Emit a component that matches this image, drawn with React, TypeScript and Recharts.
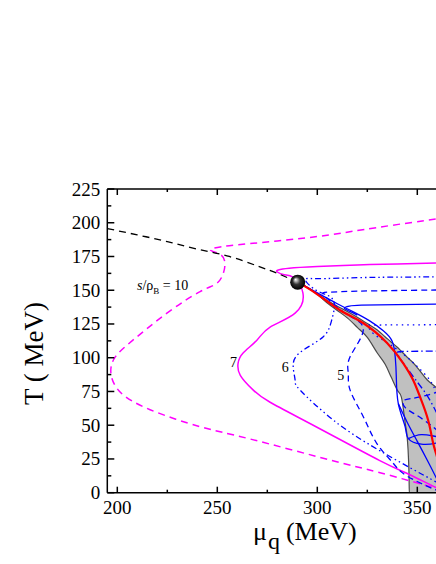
import React from "react";
import { ComposedChart, Line, Area, Scatter, XAxis, YAxis } from "recharts";

// ─── Data (μ_q in MeV, T in MeV) ──────────────────────────

const xTicks = [200, 225, 250, 275, 300, 325, 350, 375];
const yTicks = [0, 12.5, 25, 37.5, 50, 62.5, 75, 87.5, 100, 112.5, 125, 137.5, 150, 162.5, 175, 187.5, 200, 212.5, 225];

// critical end point
const cepMu = [290.2];
const cepT = [156];

// crossover (black dashed)
const crossMu = [195, 210, 225, 240, 256, 270, 280, 290.2];
const crossT = [195.7, 191, 186, 180.5, 175, 168, 162.5, 156];

// s/ρB = 10 (magenta dashed)
const s10Mu = [364, 359.5, 330, 306, 280, 256, 246.5, 251.5, 253.8, 253, 249.7, 241.4, 224.8, 207.8, 199, 196.8, 201.4, 216.4, 241.4, 266.4, 306.4, 331.4, 359, 364];
const s10T = [204, 202.8, 196.5, 191, 186.5, 183, 180, 176.5, 170, 162.5, 155, 149, 133, 113, 100.6, 88.6, 74.6, 61.5, 48.9, 39.8, 24.2, 14.8, 3.5, 1.5];

// s/ρB = 7 (magenta solid)
const s7Mu = [365, 340, 320, 300, 286, 280.5, 280, 283.5, 288, 292.8, 288.9, 276.4, 269.8, 262.9, 260.4, 261.5, 268, 276.4, 299.6, 331, 346, 359, 365];
const s7T = [170.3, 169.5, 168.7, 167.5, 166.3, 165, 163.5, 161.5, 159.5, 148, 133, 122.7, 113, 103.5, 96, 87, 76, 67, 48.7, 24, 13.5, 4, 0.5];

// s/ρB = 6 (blue dash-dot-dot)
const s6Mu = [365, 340, 320, 300, 294, 300, 308, 307.2, 303, 293, 288, 288.9, 291.4, 307.9, 331.4, 359.4, 365];
const s6T = [160, 159.7, 159.3, 158.6, 157.5, 149.5, 142.7, 127.9, 115.6, 105.7, 95.9, 83.5, 76, 53.9, 31, 8, 4];

// s/ρB = 5 (blue dashed)
const s5Mu = [365, 340, 320, 306, 303, 308, 316, 323, 316.4, 315.5, 316.4, 323, 329.7, 337.9, 344.7, 359.4, 365];
const s5T = [150.3, 149.8, 149.3, 148.6, 147, 140, 131, 120.5, 100.7, 88.4, 76, 56.3, 36.6, 21.9, 12.5, 2, 0];

// lower ratios (blue), mostly inside the spinodal band
const s4Mu = [365, 340, 322, 316, 313.5, 316, 320];
const s4T = [139.8, 139.4, 139, 138.3, 136.8, 134.5, 131.5];
const spinMu = [290.2, 300, 310, 318, 326, 333, 337.5, 339, 339.5, 340.5, 343.9, 345.5, 352, 360, 366];
const spinT = [156, 148, 140, 134, 127.5, 120, 112, 100, 86, 66, 49, 40, 36, 37, 40];
const loopMu = [345.5, 352, 360, 366];
const loopT = [40, 43, 41.5, 41];
const diagMu = [340.5, 345, 350, 355, 360, 363];
const diagT = [66, 52, 38, 24, 9.4, 0];
const s3Mu = [365, 350, 335, 327, 325.4, 328, 334, 340, 346, 351, 356, 359, 362];
const s3T = [124.5, 124.4, 124.3, 124.2, 123.5, 118, 112, 106, 99, 92, 84, 76, 66];
const s2Mu = [365, 350, 342, 340, 342, 346, 350, 354, 358, 362];
const s2T = [105, 104.8, 104.6, 103.5, 98, 90, 82, 74, 64, 52];
const s1Mu = [366, 360, 353, 347, 343, 344, 349, 355, 361];
const s1T = [77, 74.5, 71.5, 69.8, 68, 63, 58, 52, 45];

// first-order line (red)
const redMu = [290.2, 300, 311.4, 322.9, 334.9, 342.9, 347.9, 351.4, 355.4, 357.9, 359.9, 362, 364];
const redT = [156, 147, 135.2, 125.7, 110.9, 96, 83.5, 70.9, 53.9, 36.8, 26.4, 12, 0];

// spinodal band (gray)
const bandMu = [291, 296, 300, 305, 310, 315, 320, 325, 330, 334, 337, 340, 342, 344, 345, 345.6, 345.9, 346, 350, 355, 360, 365, 370, 374, 377, 379];
const bandLow = [155.5, 151, 147, 140.5, 135, 129.5, 122.5, 115, 103.5, 95, 85.5, 76, 71, 51, 40, 25, 10, 0, 0, 0, 0, 0, 0, 0, 0, 0];
const bandHigh = [155.5, 151.2, 147.5, 142.3, 138.2, 134.3, 130, 125.3, 120.5, 115.4, 111.5, 107.8, 104.8, 101.8, 100.3, 99.5, 99, 98.9, 92.7, 83.5, 77, 66, 52, 35, 17, 0];

// ─── Helpers ──────────────────────────────────────────────

const FONT = "'Liberation Serif', 'Times New Roman', serif";
const txt = { fontFamily: FONT } as const;

function pts(mu: number[], t: number[]) {
  return mu.map((m, i) => ({ mu: m, T: t[i] }));
}

const bandData = bandMu.map((m, i) => ({ mu: m, band: [bandLow[i], bandHigh[i]] }));

function XTick({ x, y, payload }: any) {
  const major = payload.value % 50 === 0;
  return (
    <g>
      <line x1={x} x2={x} y1={y} y2={y - (major ? 6 : 3)} stroke="#000" strokeWidth={1.5} />
      {major && (
        <text x={x} y={y + 21} textAnchor="middle" fontFamily={FONT} style={txt} fontSize={19} fill="#000">
          {payload.value}
        </text>
      )}
    </g>
  );
}

function TopTick({ x, y, payload }: any) {
  const major = payload.value % 50 === 0;
  return <line x1={x} x2={x} y1={y} y2={y + (major ? 6 : 3)} stroke="#000" strokeWidth={1.5} />;
}

function YTick({ x, y, payload }: any) {
  const major = payload.value % 25 === 0;
  return (
    <g>
      <line x1={x} x2={x + (major ? 7 : 4)} y1={y} y2={y} stroke="#000" strokeWidth={1.5} />
      {major && (
        <text x={x - 7} y={y + 6.5} textAnchor="end" fontFamily={FONT} style={txt} fontSize={19} fill="#000">
          {payload.value}
        </text>
      )}
    </g>
  );
}

function Ball({ cx, cy }: any) {
  return (
    <g>
      <defs>
        <radialGradient id="ballGrad" cx="50%" cy="50%" r="50%" fx="35%" fy="32%">
          <stop offset="0" stopColor="#ffffff" />
          <stop offset="0.18" stopColor="#bbbbbb" />
          <stop offset="0.5" stopColor="#333333" />
          <stop offset="1" stopColor="#000000" />
        </radialGradient>
      </defs>
      <circle cx={cx} cy={cy} r={7.5} fill="url(#ballGrad)" />
    </g>
  );
}

const MAG = "#ff00ff";
const BLUE = "#0000ff";

// ─── Main Component ───────────────────────────────────────

export default function App() {
  const line = (key: string, mu: number[], t: number[], stroke: string, dash?: string, w = 1.3) => (
    <Line
      key={key}
      data={pts(mu, t)}
      dataKey="T"
      type="natural"
      stroke={stroke}
      strokeWidth={w}
      strokeDasharray={dash}
      dot={false}
      activeDot={false}
      isAnimationActive={false}
    />
  );

  return (
    <div style={{ position: "absolute", left: 0, top: 0, width: 436, height: 564, overflow: "hidden", background: "#fff" }}>
      <ComposedChart width={528} height={564} margin={{ top: 188, right: 10.7, bottom: 41.3, left: 0 }}>
        <XAxis
          dataKey="mu"
          type="number"
          domain={[195, 400]}
          allowDataOverflow
          ticks={xTicks}
          interval={0}
          tickLine={false}
          tickSize={0}
          tickMargin={0}
          height={30}
          axisLine={{ stroke: "#000", strokeWidth: 1.5 }}
          tick={(p: any) => <XTick {...p} />}
        />
        <XAxis
          xAxisId="top"
          orientation="top"
          dataKey="mu"
          type="number"
          domain={[195, 400]}
          allowDataOverflow
          ticks={xTicks}
          interval={0}
          tickLine={false}
          tickSize={0}
          tickMargin={0}
          height={1}
          axisLine={{ stroke: "#000", strokeWidth: 1.5 }}
          tick={(p: any) => <TopTick {...p} />}
        />
        <YAxis
          type="number"
          domain={[0, 225]}
          allowDataOverflow
          ticks={yTicks}
          interval={0}
          tickLine={false}
          tickSize={0}
          tickMargin={0}
          width={107.3}
          axisLine={{ stroke: "#000", strokeWidth: 1.5 }}
          tick={(p: any) => <YTick {...p} />}
        />

        <Area
          data={bandData}
          dataKey="band"
          type="monotone"
          fill="#c0c0c0"
          fillOpacity={1}
          stroke="#4a4a4a"
          strokeWidth={1.2}
          isAnimationActive={false}
        />

        {line("s10", s10Mu, s10T, MAG, "7 5", 1.5)}
        {line("s7", s7Mu, s7T, MAG, undefined, 1.5)}
        {line("cross", crossMu, crossT, "#000", "7 5", 1.3)}
        {line("s6", s6Mu, s6T, BLUE, "6 3 1.5 3 1.5 3")}
        {line("s5", s5Mu, s5T, BLUE, "6 4")}
        {line("s4", s4Mu, s4T, BLUE)}
        {line("spin", spinMu, spinT, BLUE)}
        {line("loop", loopMu, loopT, BLUE)}
        {line("diag", diagMu, diagT, BLUE)}
        {line("s3", s3Mu, s3T, BLUE, "1.5 4")}
        {line("s2", s2Mu, s2T, BLUE, "7 3 1.5 3")}
        {line("s1", s1Mu, s1T, BLUE, "6 4")}
        {line("red", redMu, redT, "#ff0000", undefined, 2.2)}

        <Scatter data={pts(cepMu, cepT)} dataKey="T" shape={(p: any) => <Ball {...p} />} isAnimationActive={false} />
      </ComposedChart>

      <svg width={436} height={564} style={{ position: "absolute", left: 0, top: 0, pointerEvents: "none", fontFamily: FONT }}>
        <text
          x={34}
          y={353.5}
          transform="rotate(-90 34 353.5)"
          textAnchor="middle"
          dominantBaseline="central"
          fontFamily={FONT}
          fontSize={27}
        >
          T ( MeV)
        </text>
        <text x={253} y={540} fontFamily={FONT} fontSize={26}>
          μ
          <tspan dx={1} dy={9} fontSize={24}>q</tspan>
          <tspan dx={6} dy={-9} fontSize={26}>(MeV)</tspan>
        </text>
        <text x={137} y={290} fontFamily={FONT} fontSize={14}>
          <tspan fontStyle="italic">s</tspan>/ρ
          <tspan fontSize={9} dy={4}>B</tspan>
          <tspan dy={-4}> = 10</tspan>
        </text>
        <text x={230} y={366.7} fontFamily={FONT} fontSize={14}>7</text>
        <text x={281.7} y={371.7} fontFamily={FONT} fontSize={14}>6</text>
        <text x={337.3} y={380} fontFamily={FONT} fontSize={14}>5</text>
      </svg>
    </div>
  );
}
